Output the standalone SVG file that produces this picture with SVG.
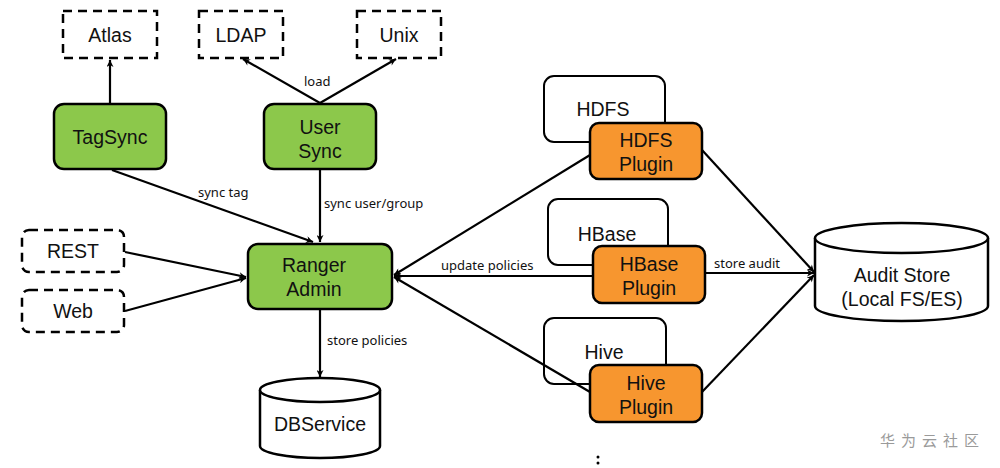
<svg xmlns="http://www.w3.org/2000/svg" width="1000" height="468" viewBox="0 0 1000 468">
<defs>
<marker id="arr" viewBox="0 0 10 10" refX="10" refY="5" markerWidth="9" markerHeight="7" markerUnits="userSpaceOnUse" orient="auto">
<path d="M0,0 L10,5 L0,10 L3,5 Z" fill="#000"/>
</marker>
<style>
.dash{fill:#fff;stroke:#000;stroke-width:2.5;stroke-dasharray:9,6}
.green{fill:#8cc84b;stroke:#000;stroke-width:2.5}
.orange{fill:#f7962f;stroke:#000;stroke-width:2.5}
.white{fill:#fff;stroke:#000;stroke-width:2}
.cyl{fill:#fff;stroke:#000;stroke-width:2.5}
.t{font-family:"Liberation Sans",Arial,sans-serif;font-size:19.5px;fill:#111;text-anchor:middle}
.lbl{font-family:"Noto Sans","Open Sans",sans-serif;font-size:13px;fill:#111}
.e{stroke:#000;stroke-width:2.2;fill:none;marker-end:url(#arr)}
.wm{font-family:"Noto Sans CJK SC",sans-serif;font-size:15px;fill:#9a9a9a;letter-spacing:6px}
</style>
</defs>
<rect width="1000" height="468" fill="#fff"/>

<g id="atlas"><rect class="dash" x="63" y="11" width="94" height="47"/><text class="t" x="110" y="42">Atlas</text></g>
<g id="ldap"><rect class="dash" x="199" y="11" width="84" height="47"/><text class="t" x="241" y="42">LDAP</text></g>
<g id="unix"><rect class="dash" x="357" y="11" width="84" height="47"/><text class="t" x="399" y="42">Unix</text></g>

<g id="tagsync"><rect class="green" x="54" y="104" width="112" height="65" rx="10"/><text class="t" x="110" y="144">TagSync</text></g>
<g id="usersync"><rect class="green" x="264" y="104" width="112" height="65" rx="10"/><text class="t" x="320" y="134">User</text><text class="t" x="320" y="158">Sync</text></g>

<g id="rest"><rect class="dash" x="22" y="230" width="102" height="42" rx="7"/><text class="t" x="73" y="258">REST</text></g>
<g id="web"><rect class="dash" x="22" y="290" width="102" height="42" rx="7"/><text class="t" x="73" y="318">Web</text></g>

<g id="ranger"><rect class="green" x="248" y="244" width="144" height="65" rx="10"/><text class="t" x="314" y="272">Ranger</text><text class="t" x="314" y="296">Admin</text></g>

<g id="dbservice"><path class="cyl" d="M260,390 A60,12 0 0 1 380,390 L380,446 A60,12 0 0 1 260,446 Z"/><path class="cyl" d="M260,390 A60,12 0 0 0 380,390" fill="none"/><text class="t" x="320" y="431">DBService</text></g>

<g id="hdfs"><rect class="white" x="544" y="76" width="121" height="66" rx="10"/><text class="t" x="603" y="116">HDFS</text></g>
<g id="hdfsplugin"><rect class="orange" x="590" y="123" width="112" height="56" rx="9"/><text class="t" x="646" y="147">HDFS</text><text class="t" x="646" y="171">Plugin</text></g>

<g id="hbase"><rect class="white" x="548" y="199" width="120" height="66" rx="10"/><text class="t" x="607" y="241">HBase</text></g>
<g id="hbaseplugin"><rect class="orange" x="593" y="246" width="112" height="57" rx="9"/><text class="t" x="649" y="271">HBase</text><text class="t" x="649" y="295">Plugin</text></g>

<g id="hive"><rect class="white" x="544" y="318" width="122" height="66" rx="10"/><text class="t" x="604" y="359">Hive</text></g>

<g id="connectors">
<line class="e" x1="110" y1="104" x2="110" y2="60"/>
<line class="e" x1="320" y1="103" x2="243" y2="59"/>
<line class="e" x1="320" y1="103" x2="396" y2="59"/>
<line class="e" x1="112" y1="170" x2="313" y2="242"/>
<line class="e" x1="320" y1="169" x2="320" y2="242"/>
<line class="e" x1="125" y1="252" x2="246" y2="277"/>
<line class="e" x1="125" y1="311" x2="246" y2="278"/>
<line class="e" x1="320" y1="309" x2="320" y2="377"/>
<line class="e" x1="590" y1="155" x2="394" y2="275"/>
<line class="e" x1="593" y1="276" x2="394" y2="276"/>
<line class="e" x1="590" y1="392" x2="394" y2="277"/>
<line class="e" x1="702" y1="150" x2="814" y2="272"/>
<line class="e" x1="705" y1="273" x2="814" y2="273"/>
<line class="e" x1="702" y1="392" x2="814" y2="275"/>
</g>

<g id="hiveplugin"><rect class="orange" x="590" y="365" width="112" height="57" rx="9"/><text class="t" x="646" y="390">Hive</text><text class="t" x="646" y="414">Plugin</text></g>

<g id="auditstore"><path class="cyl" d="M815,238 A86.5,15 0 0 1 988,238 L988,306 A86.5,15 0 0 1 815,306 Z"/><path class="cyl" d="M815,238 A86.5,15 0 0 0 988,238" fill="none"/><text class="t" x="902" y="282">Audit Store</text><text class="t" x="902" y="306">(Local FS/ES)</text></g>

<g id="labels">
<text class="lbl" x="304" y="86">load</text>
<text class="lbl" x="198" y="197">sync tag</text>
<text class="lbl" x="324" y="208">sync user/group</text>
<text class="lbl" x="327" y="345">store policies</text>
<text class="lbl" x="441" y="270">update policies</text>
<text class="lbl" x="714" y="268">store audit</text>
</g>
<text class="wm" x="880" y="446">华为云社区</text>
<circle cx="598" cy="457" r="1.5" fill="#000"/>
<circle cx="598" cy="463" r="1.5" fill="#000"/>
</svg>
